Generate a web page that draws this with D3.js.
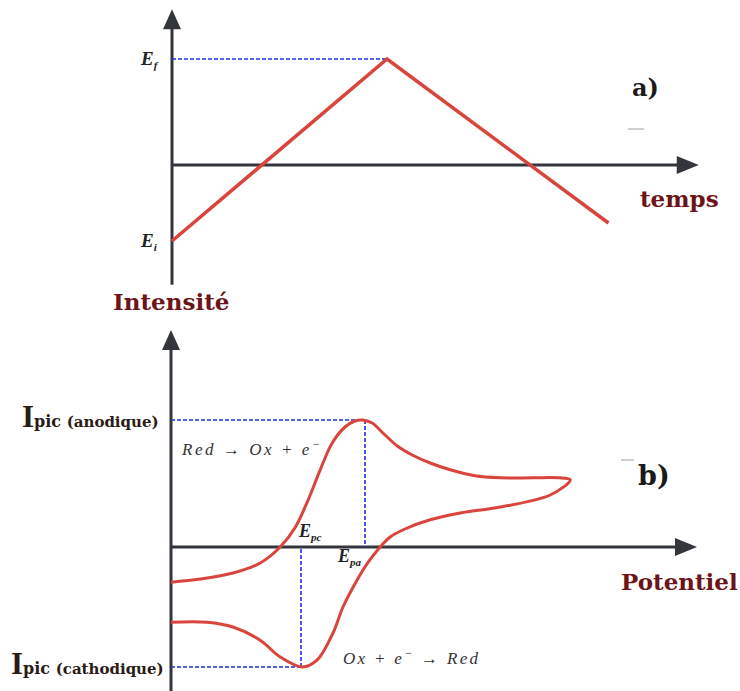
<!DOCTYPE html>
<html>
<head>
<meta charset="utf-8">
<script src="https://cdn.jsdelivr.net/npm/d3@7"></script>
<style>
  html, body { margin: 0; padding: 0; background: #fff; }
  svg { display: block; }
</style>
</head>
<body>
<svg id="chart" width="740" height="691"></svg>
<script>
// ---- Panel a: triangular potential sweep E(t) ----
const scanTime = [0, 1, 2.03];             // start, switching, end (arb. units)
const scanPotential = [-0.717, 1, -0.547]; // Ei, Ef, end (normalised to Ef)
const scanLabels = ["E", "E"];
const scanSubs = ["i", "f"];

// ---- Panel b: cyclic voltammogram I(E) ----
const cvPotential = [0, 7.3, 15.5, 22.3, 27.3, 31, 34.3, 37.3, 40.3, 43.5, 46, 47.8, 50.3, 53, 56.5, 60.3, 64.8, 69.8, 76, 82.3, 90.5, 96.8, 99.8,
                     94.8, 82.3, 72.3, 64.8, 58.5, 54.8, 52.3, 49.3, 46.5, 43, 40.5, 36.5, 32.8, 27.3, 22.3, 15.5, 9, 0];
const cvCurrent = [-8.8, -8, -6.5, -4, 0, 4.8, 11.8, 19.3, 26, 30, 31.5, 31.75, 31, 28.5, 25.3, 23, 21, 19.3, 17.8, 17.3, 17.3, 17.3, 16.8,
                   13, 10, 8.5, 6.8, 4.5, 2.5, 0, -3.8, -8.3, -15, -21.5, -28.3, -30, -27.5, -23.3, -20, -18.8, -18.8];
const anodicPeak = { E: 48, I: 31.75 };
const cathodicPeak = { E: 32.5, I: -30 };
const peakLabels = ["(anodique)", "(cathodique)"];

const svg = d3.select("#chart");
svg.append("rect").attr("width", 740).attr("height", 691).attr("fill", "#fff");

const AXIS = "#33363c";
const RED = "#d9443d";
const BLUE = "#1f2fe8";
const MAROON = "#6e1418";
const serif = "'Liberation Serif', 'DejaVu Serif', serif";
const wide = "'DejaVu Serif', serif";

function arrowUp(g, x, yTip) {
  g.append("path").attr("d", `M${x},${yTip} L${x - 9},${yTip + 20} L${x + 9},${yTip + 20} Z`).attr("fill", AXIS);
}
function arrowRight(g, xTip, y) {
  g.append("path").attr("d", `M${xTip},${y} L${xTip - 22},${y - 9} L${xTip - 22},${y + 9} Z`).attr("fill", AXIS);
}

// ================= Panel a =================
const gA = svg.append("g");
const xA = d3.scaleLinear().domain([0, 1]).range([172, 387]);
const yA = d3.scaleLinear().domain([0, 1]).range([165, 59]);

// axes
gA.append("line").attr("x1", xA(0)).attr("x2", xA(0)).attr("y1", yA(1.38)).attr("y2", yA(-1.13))
  .attr("stroke", AXIS).attr("stroke-width", 3);
gA.append("line").attr("x1", xA(0)).attr("x2", xA(2.36)).attr("y1", yA(0)).attr("y2", yA(0))
  .attr("stroke", AXIS).attr("stroke-width", 3);
arrowUp(gA, xA(0), yA(1.47));
arrowRight(gA, xA(2.45), yA(0));

// Ef guide
gA.append("line").attr("x1", xA(0)).attr("x2", xA(scanTime[1])).attr("y1", yA(scanPotential[1])).attr("y2", yA(scanPotential[1]))
  .attr("stroke", BLUE).attr("stroke-width", 1.6).attr("stroke-dasharray", "4,2");

// sweep
const lineA = d3.line().x((d, i) => xA(scanTime[i])).y(d => yA(d));
gA.append("path").datum(scanPotential).attr("d", lineA)
  .attr("fill", "none").attr("stroke", RED).attr("stroke-width", 3.5).attr("stroke-linejoin", "miter");

// Ei / Ef labels
[scanPotential[0], scanPotential[1]].forEach((v, i) => {
  const t = gA.append("text").attr("x", 141).attr("y", yA(v) + 6)
    .attr("font-family", serif).attr("font-style", "italic").attr("font-weight", "bold")
    .attr("font-size", 19).attr("fill", "#222");
  t.append("tspan").text(scanLabels[i]);
  t.append("tspan").attr("font-size", 11).attr("dy", 4).text(scanSubs[i]);
});

gA.append("text").attr("x", 632).attr("y", 96).attr("font-family", wide).attr("font-weight", "bold")
  .attr("font-size", 24).attr("fill", "#1a1a1a").text("a)");
gA.append("line").attr("x1", 628).attr("x2", 644).attr("y1", 129).attr("y2", 129)
  .attr("stroke", "#cfcfcf").attr("stroke-width", 2);
gA.append("text").attr("x", 640).attr("y", 207).attr("font-family", wide).attr("font-weight", "bold")
  .attr("font-size", 23).attr("fill", MAROON).text("temps");
gA.append("text").attr("x", 113).attr("y", 310).attr("font-family", wide).attr("font-weight", "bold")
  .attr("font-size", 23).attr("fill", MAROON).text("Intensité");

// ================= Panel b =================
const gB = svg.append("g");
const xB = d3.scaleLinear().domain([0, 1]).range([171, 175]);
const yB = d3.scaleLinear().domain([0, 1]).range([547, 543]);

// axes
gB.append("line").attr("x1", xB(0)).attr("x2", xB(0)).attr("y1", yB(52)).attr("y2", yB(-37))
  .attr("stroke", AXIS).attr("stroke-width", 3);
gB.append("line").attr("x1", xB(0)).attr("x2", xB(129)).attr("y1", yB(0)).attr("y2", yB(0))
  .attr("stroke", AXIS).attr("stroke-width", 3);
arrowUp(gB, xB(0), yB(54.25));
arrowRight(gB, xB(131.5), yB(0));

// peak guides
const dash = g => g.attr("stroke", BLUE).attr("stroke-width", 1.6).attr("stroke-dasharray", "4,2");
gB.append("line").attr("x1", xB(0)).attr("x2", xB(anodicPeak.E)).attr("y1", yB(anodicPeak.I)).attr("y2", yB(anodicPeak.I)).call(dash);
gB.append("line").attr("x1", xB(anodicPeak.E + 0.5)).attr("x2", xB(anodicPeak.E + 0.5)).attr("y1", yB(anodicPeak.I)).attr("y2", yB(0)).call(dash);
gB.append("line").attr("x1", xB(0)).attr("x2", xB(cathodicPeak.E)).attr("y1", yB(cathodicPeak.I)).attr("y2", yB(cathodicPeak.I)).call(dash);
gB.append("line").attr("x1", xB(cathodicPeak.E)).attr("x2", xB(cathodicPeak.E)).attr("y1", yB(cathodicPeak.I)).attr("y2", yB(0)).call(dash);

// voltammogram
const lineB = d3.line().x((d, i) => xB(cvPotential[i])).y(d => yB(d)).curve(d3.curveCatmullRom.alpha(0.5));
gB.append("path").datum(cvCurrent).attr("d", lineB)
  .attr("fill", "none").attr("stroke", RED).attr("stroke-width", 3).attr("stroke-linejoin", "round");

// peak current labels
[[anodicPeak, peakLabels[0]], [cathodicPeak, peakLabels[1]]].forEach(([p, lab], i) => {
  const t = gB.append("text").attr("x", i === 0 ? 22 : 11).attr("y", yB(p.I) + 7)
    .attr("font-weight", "bold").attr("fill", "#2a1c14");
  t.append("tspan").attr("font-family", serif).attr("font-size", 31).text("I");
  t.append("tspan").attr("font-family", wide).attr("font-size", 16).text("pic ");
  t.append("tspan").attr("font-family", wide).attr("font-size", 15).text(lab);
});

// peak potential labels
function subLabel(x, y, main, sub) {
  const t = gB.append("text").attr("x", x).attr("y", y)
    .attr("font-family", serif).attr("font-style", "italic").attr("font-weight", "bold")
    .attr("font-size", 18).attr("fill", "#222");
  t.append("tspan").text(main);
  t.append("tspan").attr("font-size", 11).attr("dy", 4).text(sub);
}
subLabel(xB(cathodicPeak.E) - 2, 537, "E", "pc");
subLabel(xB(anodicPeak.E) - 25, 562, "E", "pa");

// reactions
function reaction(x, y, w, parts) {
  const t = gB.append("text").attr("x", x).attr("y", y)
    .attr("font-family", serif).attr("font-style", "italic").attr("font-size", 17).attr("fill", "#333")
    .attr("textLength", w).attr("lengthAdjust", "spacing");
  parts.forEach(p => {
    const s = t.append("tspan").text(p.t);
    if (p.sup) s.attr("dy", -7).attr("font-size", 12);
    if (p.down) s.attr("dy", 7);
  });
}
reaction(182, 455, 138, [{ t: "Red → Ox + e" }, { t: "−", sup: true }]);
reaction(343, 664, 135, [{ t: "Ox + e" }, { t: "−", sup: true }, { t: " → Red", down: true }]);

gB.append("text").attr("x", 638).attr("y", 485).attr("font-family", wide).attr("font-weight", "bold")
  .attr("font-size", 27).attr("fill", "#1a1a1a").text("b)");
gB.append("line").attr("x1", 621).attr("x2", 634).attr("y1", 460).attr("y2", 460)
  .attr("stroke", "#d0d0d0").attr("stroke-width", 2);
gB.append("text").attr("x", 621).attr("y", 590).attr("font-family", wide).attr("font-weight", "bold")
  .attr("font-size", 23).attr("fill", MAROON).text("Potentiel");
</script>
</body>
</html>
